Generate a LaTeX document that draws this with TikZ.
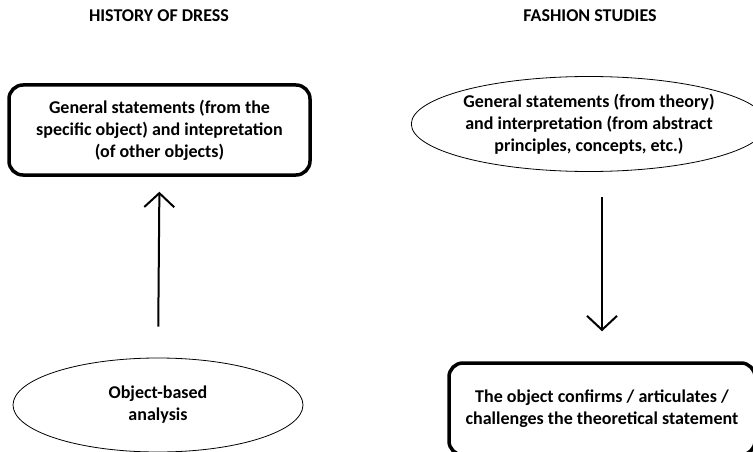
\documentclass[tikz,border=0pt]{standalone}
\usepackage{fontspec}
\setmainfont{Carlito}
\usetikzlibrary{positioning,shapes.geometric,arrows.meta}

\tikzset{
  heading/.style={font=\fontsize{18}{22}\selectfont\bfseries},
  stmt/.style={font=\fontsize{18}{22}\selectfont\bfseries, align=center, inner sep=0pt},
  roundbox/.style={stmt, draw, line width=3.5pt, rounded corners=14pt},
  oval/.style={stmt, ellipse, draw, line width=0.8pt},
  link/.style={line width=2pt, -{Straight Barb[length=14pt,width=30pt]}}
}

\begin{document}
\begin{tikzpicture}[x=1pt,y=-1pt]

\path[use as bounding box, clip] (0,0) rectangle (753,452);

\node[heading] (hist) at (159,16) {HISTORY OF DRESS};
\node[heading] (fash) at (590,16) {FASHION STUDIES};

\node[roundbox, minimum width=301pt, minimum height=90pt] (general) at (159.5,130)
  {General statements (from the\\ specific object) and intepretation\\ (of other objects)};
\node[oval, minimum width=290pt, minimum height=94pt] (analysis) at (158,405)
  {Object-based\\ analysis};

\node[oval, minimum width=328pt, minimum height=95pt] (theory) at (589,124)
  {General statements (from theory)\\ and interpretation (from abstract\\ principles, concepts, etc.)};
\node[roundbox, minimum width=306pt, minimum height=92pt] (confirm) at (602,409)
  {The object confirms / articulates /\\ challenges the theoretical statement};

\draw[link, shorten <=31pt, shorten >=15pt] (analysis.north) -- (general.south);
\draw[link, shorten <=25pt, shorten >=30pt] (theory.south -| confirm.north) -- (confirm.north);

\end{tikzpicture}
\end{document}
